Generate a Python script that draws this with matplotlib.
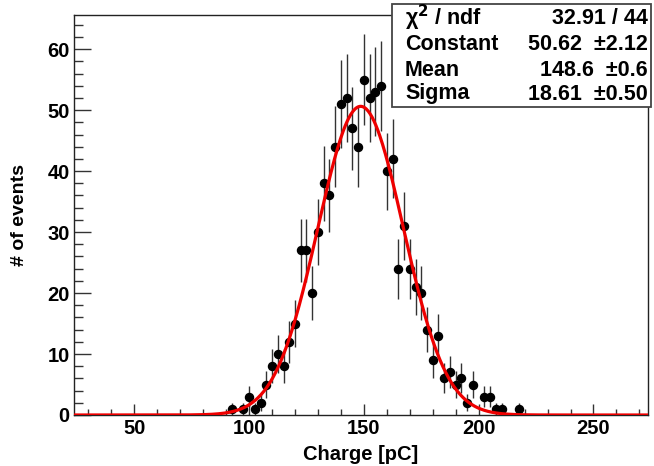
import matplotlib
matplotlib.use("Agg")
import matplotlib.pyplot as plt
from matplotlib.patches import Rectangle
from matplotlib.ticker import MultipleLocator
import numpy as np

plt.rcParams['font.family'] = ['Liberation Sans', 'DejaVu Sans']
plt.rcParams['font.weight'] = 'bold'

# histogram bins (charge, pC) and counts
charge = [92.5, 97.5, 100, 102.5, 105, 107.5, 110, 112.5, 115, 117.5,
          120, 122.5, 125, 127.5, 130, 132.5, 135, 137.5, 140, 142.5,
          145, 147.5, 150, 152.5, 155, 157.5, 160, 162.5, 165, 167.5,
          170, 172.5, 175, 177.5, 180, 182.5, 185, 187.5, 190, 192.5,
          195, 197.5, 202.5, 205, 207.5, 210, 217.5]
counts = [1, 1, 3, 1, 2, 5, 8, 10, 8, 12,
          15, 27, 27, 20, 30, 38, 36, 44, 51, 52,
          47, 44, 55, 52, 53, 54, 40, 42, 24, 31,
          24, 21, 20, 14, 9, 13, 6, 7, 5, 6,
          2, 5, 3, 3, 1, 1, 1]

# gaussian fit parameters
fit_const = 50.62
fit_mean = 148.6
fit_sigma = 18.61

stats_names = ["\u03c7$^{2}$ / ndf", "Constant", "Mean", "Sigma"]
stats_values = ["32.91 / 44", "50.62  \u00b12.12", "148.6  \u00b10.6", "18.61  \u00b10.50"]

W, H = 654, 466
fig = plt.figure(figsize=(W / 100, H / 100), dpi=100)
ax = fig.add_axes([74 / W, (H - 415) / H, (648 - 74) / W, (415 - 15) / H])

x = np.array(charge)
y = np.array(counts)
err = np.sqrt(y)

ax.errorbar(x, y, yerr=err, fmt='o', color='black', ecolor='#333333',
            elinewidth=1.0, markersize=5.8, capsize=0, zorder=3)

xs = np.linspace(23.75, 273.75, 600)
ax.plot(xs, fit_const * np.exp(-0.5 * ((xs - fit_mean) / fit_sigma) ** 2),
        color='#ee0000', lw=2.3, zorder=4)

ax.set_xlim(23.75, 273.75)
ax.set_ylim(0, 65.6)

ax.xaxis.set_major_locator(MultipleLocator(50))
ax.xaxis.set_minor_locator(MultipleLocator(10))
ax.yaxis.set_major_locator(MultipleLocator(10))
ax.yaxis.set_minor_locator(MultipleLocator(2))
ax.tick_params(axis='both', which='both', direction='in', top=False, right=False,
               labelsize=14.5, color='#333333')
ax.tick_params(axis='x', which='major', length=8, width=1, pad=3)
ax.tick_params(axis='x', which='minor', length=4, width=1)
ax.tick_params(axis='y', which='major', length=12, width=1, pad=3)
ax.tick_params(axis='y', which='minor', length=6.5, width=1)
for lab in ax.get_xticklabels() + ax.get_yticklabels():
    lab.set_fontweight('bold')
for s in ax.spines.values():
    s.set_color('#222222')
    s.set_linewidth(1.0)

ax.set_xlabel("Charge [pC]", fontsize=14.5, fontweight='bold', labelpad=5)
ax.set_ylabel("# of events", fontsize=14, fontweight='bold', labelpad=14)

# stats box
box_l, box_r, box_t, box_b = 392, 651, 4, 107
fig.patches.append(Rectangle((box_l / W, 1 - box_b / H), (box_r - box_l) / W,
                             (box_b - box_t) / H, transform=fig.transFigure,
                             facecolor='white', edgecolor='#444444', lw=1.3,
                             zorder=10))
rows = [18, 45, 70, 94]
for name, val, ry in zip(stats_names, stats_values, rows):
    fig.text(405 / W, 1 - ry / H, name, ha='left', va='center', fontsize=15.5,
             fontweight='bold', zorder=11)
    fig.text(648 / W, 1 - ry / H, val, ha='right', va='center', fontsize=15.5,
             fontweight='bold', zorder=11)

fig.savefig("out.png", dpi=100)
